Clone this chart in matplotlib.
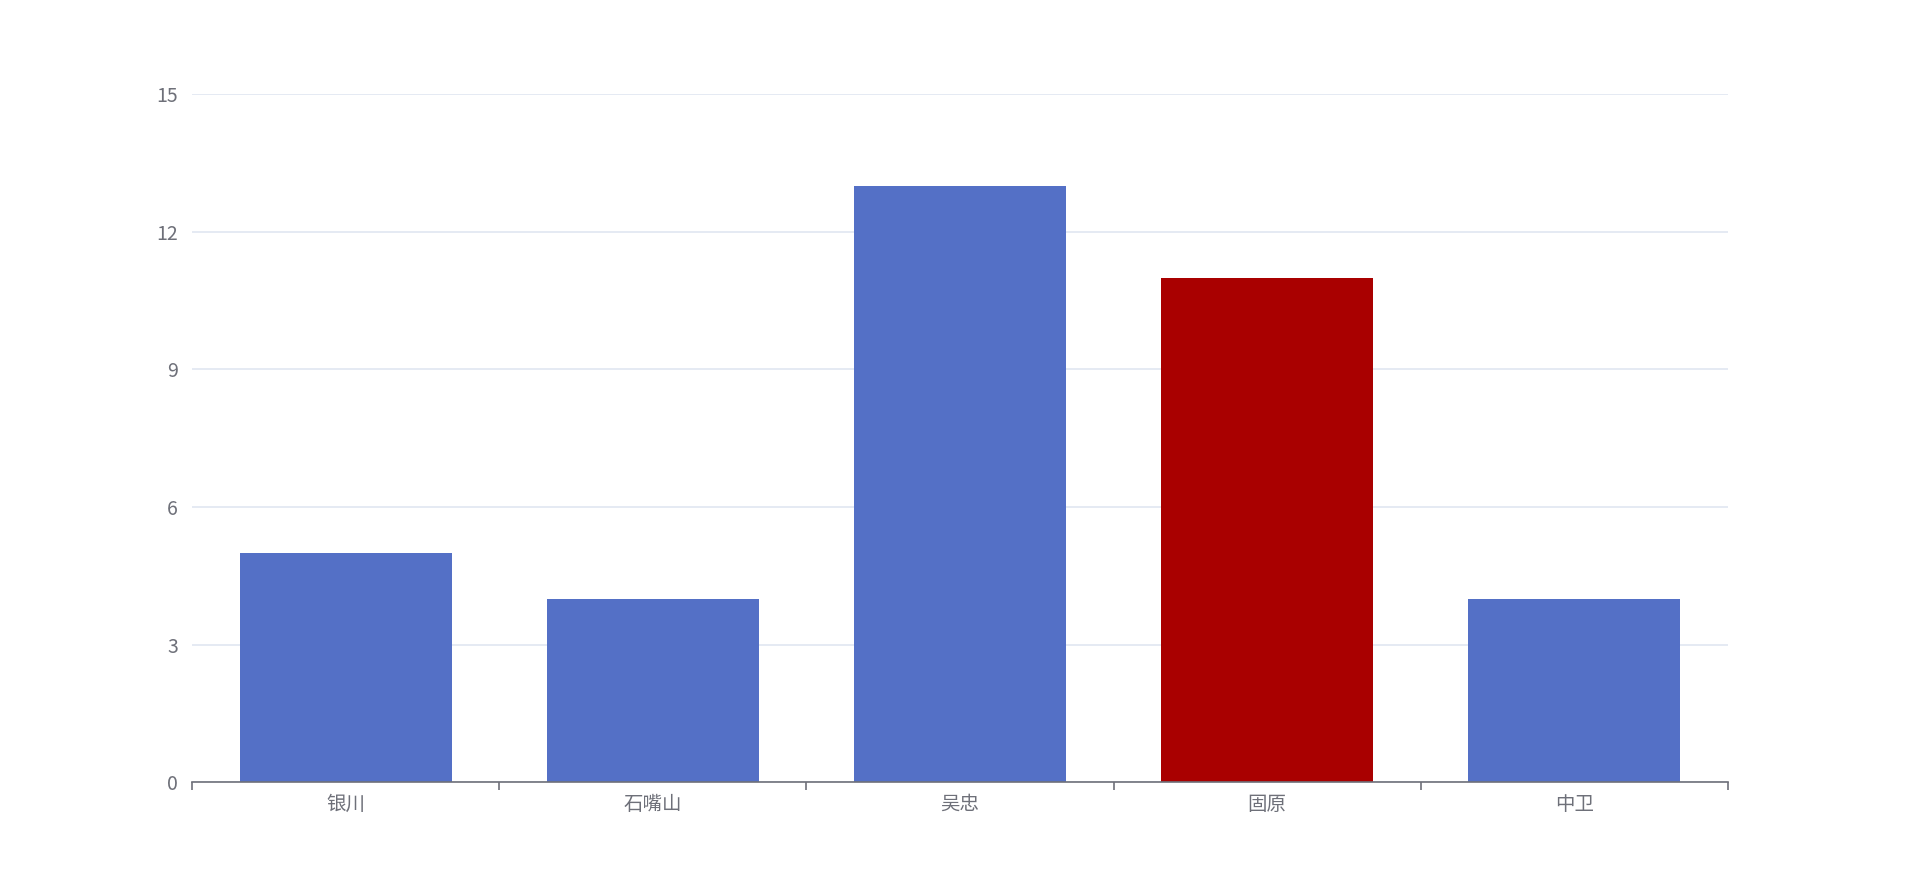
import matplotlib.pyplot as plt
import numpy as np

plt.rcParams['font.family'] = ['Noto Sans CJK SC', 'DejaVu Sans']

cities = ["银川", "石嘴山", "吴忠", "固原", "中卫"]
values = [5, 4, 13, 11, 4]
highlight = "固原"

blue = "#5470c6"
red = "#a90000"
text_c = "#6e7079"

fig = plt.figure(figsize=(19.2, 8.92), dpi=100)
ax = fig.add_axes([0.1, 0.1228, 0.8, 0.7718])

x = np.arange(len(cities))
colors = [red if c == highlight else blue for c in cities]
ax.bar(x, values, width=0.69, color=colors, linewidth=0, zorder=3)

ax.set_xlim(-0.5, len(cities) - 0.5)
ax.set_ylim(0, 15)
ax.set_yticks([0, 3, 6, 9, 12, 15])
ax.grid(axis='y', color='#e0e6f1', linewidth=1.2, zorder=0)

# ticks on category boundaries, labels centered
ax.set_xticks(np.arange(len(cities) + 1) - 0.5)
ax.set_xticklabels([])
ax.set_xticks(x, minor=True)
ax.set_xticklabels(cities, minor=True)
ax.tick_params(axis='x', which='major', length=6, color=text_c, width=1.2)
ax.tick_params(axis='x', which='minor', length=0, pad=8, labelsize=14, labelcolor=text_c)
ax.tick_params(axis='y', length=0, pad=10, labelsize=14, labelcolor=text_c)

for s in ['top', 'right', 'left']:
    ax.spines[s].set_visible(False)
ax.spines['bottom'].set_color(text_c)
ax.spines['bottom'].set_linewidth(1.2)
ax.spines['bottom'].set_zorder(4)

fig.savefig("out.png", dpi=100, facecolor='white')
